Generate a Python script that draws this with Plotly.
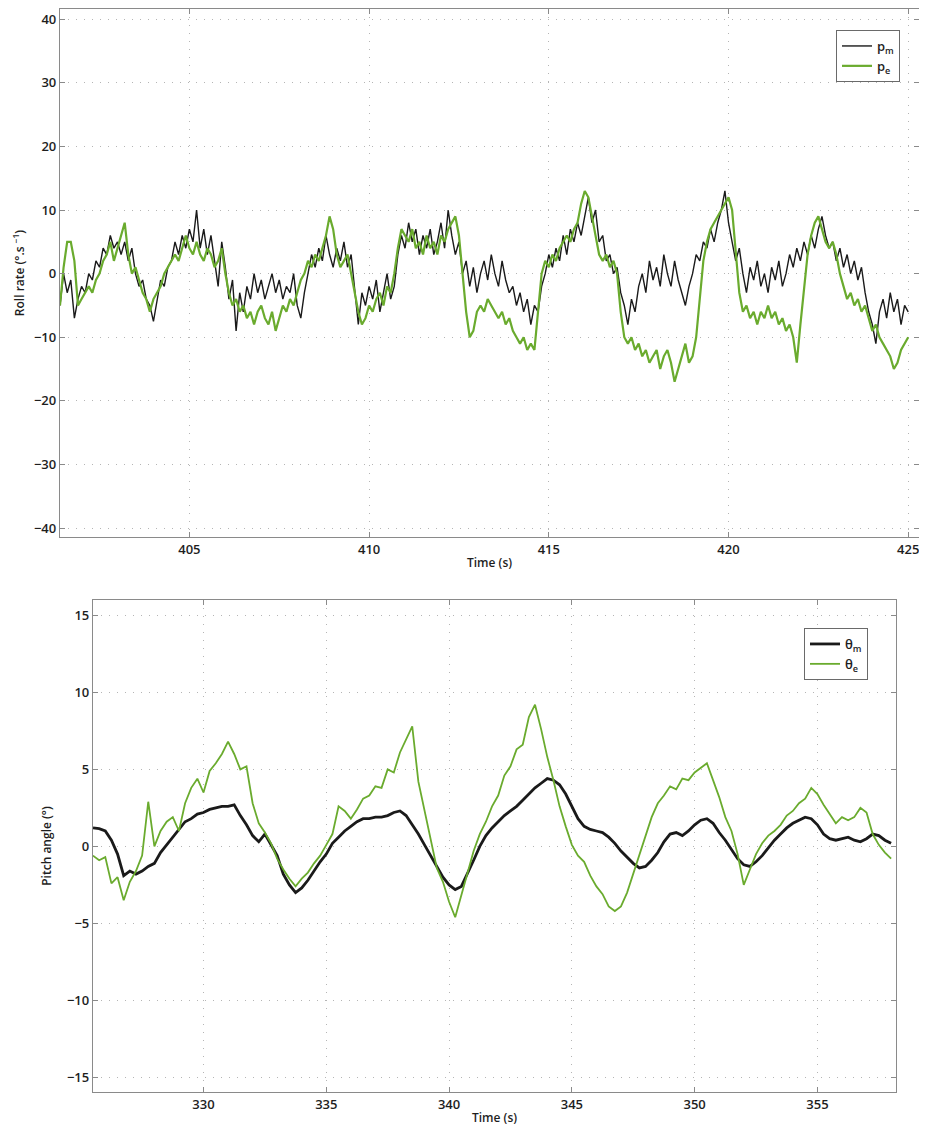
import numpy as np
import plotly.graph_objects as go

# ---------------- Top panel: roll rate ----------------
roll_t0, roll_dt = 401.4, 0.1
roll_measured = [
    -5, 0, -3, -1, -7, -4, -2, -3, 0, -1,
    2, 1, 4, 3, 6, 4, 5, 3, 5, 2,
    4, 0, -2, -1, -4, -5, -7.5, -4, -1, -2,
    1, 2, 5, 3, 6, 4, 7, 5, 10, 4,
    7, 3, 6, 2, -2, 5, 1, -4, -1, -9,
    -3, -6, -2, -4, 0, -3, -1, -4, -2, 0,
    -3, -1, -4, -2, -3, 0, -5, -7, -3, 0,
    3, 1, 4, 2, 6, 3, 1, 4, 2, 5,
    1, 3, -2, -8, -3, -5, -2, -4, -1, -6,
    -3, 0, -4, -2, 3, 6, 4, 8, 5, 7,
    3, 6, 4, 7, 3, 5, 8, 4, 10, 6,
    3, 5, 0, 2, -2, 1, -3, 0, 2, -1,
    3, 0, -2, 2, -1, -3, -2, -5, -3, -6,
    -4, -8, -5, -6, -2, 0, 3, 1, 4, 2,
    6, 3, 7, 5, 8, 6, 9, 12, 8, 10,
    5, 6, 2, 3, 0, 1, -3, -5, -8, -4,
    -6, -2, 0, -3, 2, -1, 1, -2, 3, 0,
    -2, 2, -1, -3, -5, -2, 0, 3, 2, 5,
    4, 7, 5, 8, 10, 13, 8, 5, 2, 4,
    0, -3, 1, -1, 2, -2, 0, -3, 1, -1,
    2, -2, 0, 3, 1, 4, 2, 5, 3, 6,
    4, 7, 9, 6, 4, 5, 2, 4, 1, 3,
    0, 2, -1, 1, -3, -6, -8, -11, -6, -4,
    -7, -3, -6, -4, -8, -5, -6,
]
roll_estimated = [
    -5, 1, 5, 5, 2, -5, -4, -3, -2, -3,
    -1, 0, 2, 3, 5, 2, 4, 6, 8, 3,
    0, 1, -1, -3, -4, -6, -4, -3, -2, 0,
    1, 2, 3, 2, 4, 6, 4, 3, 5, 3,
    2, 4, 3, 1, 2, 4, 0, -3, -5, -4,
    -6, -5, -7, -6, -8, -6, -5, -7, -8, -6,
    -9, -7, -5, -6, -4, -5, -3, -1, 0, 2,
    1, 3, 2, 4, 6, 9, 7, 3, 1, 2,
    3, 0, -3, -6, -8, -7, -5, -6, -4, -3,
    -5, -2, -3, 0, 4, 7, 6, 5, 7, 4,
    5, 3, 6, 4, 5, 3, 6, 5, 7, 8,
    9, 6, 0, -6, -10, -9, -6, -5, -6, -4,
    -5, -6, -7, -6, -8, -7, -9, -10, -11, -10,
    -12, -11, -12, -6, 0, 2, 1, 3, 2, 4,
    5, 6, 5, 7, 8, 11, 13, 12, 9, 6,
    3, 2, 3, 1, 2, 0, -6, -10, -11, -10,
    -12, -11, -13, -12, -14, -13, -12, -15, -13, -12,
    -14, -17, -15, -13, -11, -14, -13, -10, -4, 2,
    5, 7, 8, 9, 10, 11, 12, 10, 4, -3,
    -6, -5, -7, -6, -8, -6, -7, -5, -7, -6,
    -8, -7, -9, -8, -10, -14, -8, -2, 3, 6,
    8, 9, 7, 5, 4, 5, 3, 0, -2, -4,
    -3, -5, -4, -6, -5, -7, -9, -8, -10, -11,
    -12, -13, -15, -14, -12, -11, -10,
]
roll_xticks = [405, 410, 415, 420, 425]
roll_yticks = [-40, -30, -20, -10, 0, 10, 20, 30, 40]

# ---------------- Bottom panel: pitch angle ----------------
pitch_t0, pitch_dt = 325.5, 0.25
pitch_measured = [
    1.2, 1.15, 1.0, 0.4, -0.5, -1.9, -1.6, -1.8, -1.6, -1.3,
    -1.1, -0.4, 0.1, 0.6, 1.1, 1.6, 1.8, 2.1, 2.2, 2.4,
    2.5, 2.6, 2.6, 2.7, 2.0, 1.4, 0.7, 0.3, 0.8, 0.1,
    -0.6, -1.8, -2.5, -3.0, -2.7, -2.2, -1.6, -1.0, -0.5, 0.2,
    0.6, 1.0, 1.3, 1.6, 1.8, 1.8, 1.9, 1.9, 2.0, 2.2,
    2.3, 2.0, 1.4, 0.8, 0.1, -0.6, -1.3, -2.0, -2.5, -2.8,
    -2.6, -1.8, -0.9, 0.0, 0.7, 1.2, 1.6, 2.0, 2.3, 2.6,
    3.0, 3.4, 3.8, 4.1, 4.4, 4.3, 4.0, 3.4, 2.6, 1.8,
    1.3, 1.1, 1.0, 0.9, 0.6, 0.2, -0.3, -0.7, -1.1, -1.4,
    -1.3, -0.9, -0.4, 0.3, 0.8, 0.9, 0.7, 1.0, 1.4, 1.7,
    1.8, 1.5, 0.9, 0.4, -0.2, -0.8, -1.2, -1.3, -1.0, -0.6,
    -0.1, 0.4, 0.8, 1.2, 1.5, 1.7, 1.9, 1.8, 1.4, 0.8,
    0.5, 0.4, 0.5, 0.6, 0.4, 0.3, 0.5, 0.8, 0.7, 0.4,
    0.2,
]
pitch_estimated = [
    -0.6, -0.9, -0.7, -2.4, -2.0, -3.5, -2.3, -1.6, -0.6, 2.9,
    0.0, 1.0, 1.6, 1.9, 1.0, 2.8, 3.8, 4.4, 3.5, 4.9,
    5.4, 6.0, 6.8, 6.0, 5.0, 5.2, 2.8, 1.5, 0.9, 0.2,
    -0.8, -1.5, -2.1, -2.6, -2.1, -1.7, -1.1, -0.6, 0.1, 0.8,
    2.6, 2.3, 1.8, 2.4, 3.1, 3.3, 3.9, 3.8, 5.0, 4.8,
    6.1, 7.0, 7.8, 4.2, 2.3, 0.3, -1.4, -2.3, -3.6, -4.6,
    -3.2, -1.7, -0.3, 0.8, 1.6, 2.6, 3.3, 4.6, 5.2, 6.3,
    6.6, 8.4, 9.2, 7.6, 5.8, 4.3, 2.6, 1.3, 0.1, -0.6,
    -1.0, -1.9, -2.6, -3.1, -3.9, -4.2, -3.9, -3.0, -1.8, -0.6,
    0.6, 1.9, 2.8, 3.3, 3.9, 3.7, 4.4, 4.3, 4.8, 5.1,
    5.4, 4.3, 3.2, 1.9, 1.0, -0.5, -2.5, -1.5, -0.5, 0.2,
    0.7, 1.0, 1.4, 2.0, 2.3, 2.8, 3.1, 3.8, 3.4, 2.7,
    2.1, 1.5, 1.9, 1.7, 1.9, 2.5, 2.2, 0.8, 0.1, -0.4,
    -0.8,
]
pitch_xticks = [330, 335, 340, 345, 350, 355]
pitch_yticks = [-15, -10, -5, 0, 5, 10, 15]

roll_t_m = roll_t0 + roll_dt * np.arange(len(roll_measured))
roll_t_e = roll_t0 + roll_dt * np.arange(len(roll_estimated))
pitch_t_m = pitch_t0 + pitch_dt * np.arange(len(pitch_measured))
pitch_t_e = pitch_t0 + pitch_dt * np.arange(len(pitch_estimated))

GREEN = "#6aab2e"
BLACK = "#1a1a1a"
# the page body adds an 8 px margin, so the figure is 8 px smaller than the window
OFF = 8
W, H = 927 - OFF, 1127 - OFF


def px_x(a, b):
    return [(a - OFF) / W, (b - OFF) / W]


def px_y(top, bottom):
    return [1 - (bottom - OFF) / H, min(1.0, 1 - (top - OFF) / H)]


fig = go.Figure()
fig.add_trace(go.Scatter(x=roll_t_m, y=roll_measured, mode="lines", name="p<sub>m</sub>",
                         line=dict(color=BLACK, width=1.4), xaxis="x", yaxis="y", legend="legend"))
fig.add_trace(go.Scatter(x=roll_t_e, y=roll_estimated, mode="lines", name="p<sub>e</sub>",
                         line=dict(color=GREEN, width=2.2), xaxis="x", yaxis="y", legend="legend"))
fig.add_trace(go.Scatter(x=pitch_t_m, y=pitch_measured, mode="lines", name="θ<sub>m</sub>",
                         line=dict(color=BLACK, width=2.8), xaxis="x2", yaxis="y2", legend="legend2"))
fig.add_trace(go.Scatter(x=pitch_t_e, y=pitch_estimated, mode="lines", name="θ<sub>e</sub>",
                         line=dict(color=GREEN, width=1.8), xaxis="x2", yaxis="y2", legend="legend2"))

FONT = "Open Sans"
tickfont = dict(family=FONT, size=13, color="#1e1e1e", weight=600)
titlefont = dict(family=FONT, size=12, color="#1e1e1e", weight=600)
common = dict(showline=True, linecolor="#8a8a8a", linewidth=1.3, mirror="ticks",
              ticks="inside", ticklen=5, tickcolor="#8a8a8a", tickwidth=1,
              showgrid=True, gridcolor="#b5b5b5", griddash="1px,7px", gridwidth=1,
              zeroline=False, tickfont=tickfont)

fig.update_layout(
    width=W, height=H, margin=dict(l=0, r=0, t=0, b=0),
    paper_bgcolor="white", plot_bgcolor="white",
    xaxis=dict(domain=px_x(60, 919), range=[401.4, 425.3], tickvals=roll_xticks,
               anchor="y", title=dict(text="Time (s)", font=titlefont, standoff=1), **common),
    yaxis=dict(domain=px_y(9, 537), range=[-41.4, 41.6], tickvals=roll_yticks,
               anchor="x", title=dict(text="Roll rate (°.s <sup>−1</sup>)", font=titlefont, standoff=6), **common),
    xaxis2=dict(domain=px_x(93, 896), range=[325.5, 358.2], tickvals=pitch_xticks,
                anchor="y2", title=dict(text="Time (s)", font=titlefont, standoff=1), **common),
    yaxis2=dict(domain=px_y(600, 1092), range=[-15.95, 16.0], tickvals=pitch_yticks,
                anchor="x2", title=dict(text="Pitch angle (°)", font=titlefont, standoff=12), **common),
    legend=dict(x=(900 - OFF) / W, y=1 - (30 - OFF) / H, xanchor="right", yanchor="top",
                bgcolor="white", bordercolor="#6a6a6a", borderwidth=1,
                font=dict(family=FONT, size=13, color="#1e1e1e", weight=600), tracegroupgap=2),
    legend2=dict(x=(868 - OFF) / W, y=1 - (628 - OFF) / H, xanchor="right", yanchor="top",
                 bgcolor="white", bordercolor="#6a6a6a", borderwidth=1,
                 font=dict(family=FONT, size=13, color="#1e1e1e", weight=600), tracegroupgap=2),
    showlegend=True,
)

fig.write_html("out.html", config={"displayModeBar": False})
